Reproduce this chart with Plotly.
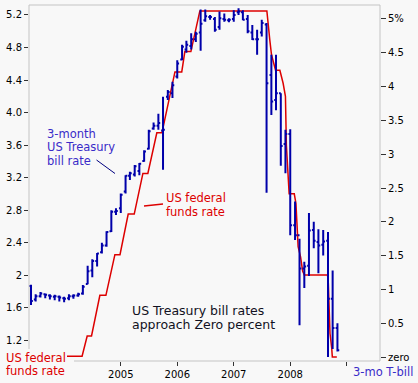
import plotly.graph_objects as go
import pandas as pd

# ---------------- data ----------------
# monthly 3-month T-bill bars (right axis, %)
months = pd.date_range("2003-06-01", periods=66, freq="MS")
tbill_open = [1.05, 0.85, 0.90, 0.93, 0.91, 0.89, 0.89, 0.87, 0.87, 0.90, 0.91, 0.94,
              1.08, 1.28, 1.42, 1.55, 1.65, 1.86, 2.15, 2.20, 2.45, 2.68, 2.70, 2.75,
              2.90, 3.08, 3.38, 3.42, 3.35, 3.85, 3.90, 4.15, 4.40, 4.55, 4.60, 4.70,
              4.80, 4.98, 5.03, 5.00, 4.88, 5.00, 4.98, 5.00, 5.10, 5.10, 5.00, 4.80,
              4.70, 4.80, 4.92, 4.17, 3.80, 3.90, 3.15, 3.30, 1.95, 1.80, 1.31, 1.35,
              1.88, 1.70, 1.66, 1.72, 0.86, 0.43]
tbill_high = [1.07, 0.93, 0.96, 0.94, 0.93, 0.92, 0.91, 0.89, 0.93, 0.93, 0.95, 1.065,
              1.35, 1.445, 1.54, 1.69, 1.86, 2.17, 2.20, 2.42, 2.69, 2.74, 2.84, 2.87,
              3.06, 3.36, 3.47, 3.60, 3.85, 3.95, 4.07, 4.39, 4.62, 4.68, 4.79, 4.81,
              5.14, 5.14, 5.06, 5.03, 5.11, 5.08, 5.01, 5.13, 5.16, 5.13, 5.06, 4.91,
              4.84, 4.99, 4.94, 4.47, 4.47, 3.90, 3.36, 3.37, 2.30, 1.75, 1.41, 2.13,
              2.00, 1.89, 1.88, 1.85, 1.28, 0.50]
tbill_low = [0.77, 0.82, 0.88, 0.87, 0.85, 0.84, 0.82, 0.81, 0.84, 0.86, 0.89, 0.92,
             1.075, 1.18, 1.34, 1.53, 1.63, 1.85, 2.10, 2.13, 2.42, 2.62, 2.67, 2.69,
             2.89, 3.07, 3.36, 3.36, 2.77, 3.80, 3.83, 4.12, 4.39, 4.50, 4.55, 4.66,
             4.53, 4.96, 4.99, 4.81, 4.84, 4.96, 4.95, 4.96, 5.06, 4.98, 4.79, 4.69,
             4.47, 4.74, 2.43, 3.58, 3.65, 2.83, 2.72, 1.80, 1.73, 0.47, 1.02, 1.20,
             1.61, 1.24, 1.50, 0.00, 0.12, 0.08]
tbill_close = [0.83, 0.90, 0.94, 0.92, 0.90, 0.90, 0.88, 0.86, 0.90, 0.91, 0.93, 1.04,
               1.27, 1.42, 1.53, 1.65, 1.85, 2.15, 2.16, 2.40, 2.68, 2.72, 2.82, 2.86,
               3.04, 3.34, 3.42, 3.46, 3.36, 3.92, 4.02, 4.34, 4.59, 4.62, 4.70, 4.78,
               4.93, 5.04, 5.03, 4.84, 5.01, 4.99, 4.99, 5.06, 5.11, 4.99, 4.82, 4.70,
               4.70, 4.94, 4.05, 3.78, 3.90, 3.12, 3.30, 1.95, 1.80, 1.31, 1.34, 1.87,
               1.72, 1.65, 1.71, 0.86, 0.43, 0.10]

# US federal funds rate (left axis, %)
fed_dates = ["2003-06-25", "2004-04-26", "2004-05-29", "2004-06-26", "2004-08-19",
             "2004-09-27", "2004-11-24", "2004-12-27", "2005-02-18", "2005-03-29",
             "2005-05-24", "2005-06-25", "2005-08-22", "2005-09-24", "2005-12-17",
             "2006-01-30", "2006-02-19", "2006-03-30", "2006-05-27", "2007-08-03",
             "2007-08-22", "2007-09-02", "2007-09-28", "2007-10-26", "2007-11-16",
             "2007-12-01", "2007-12-07", "2007-12-25", "2008-01-27", "2008-02-07",
             "2008-02-13", "2008-02-21", "2008-03-08", "2008-03-21", "2008-04-01",
             "2008-08-29", "2008-09-03", "2008-09-09", "2008-09-14", "2008-09-25",
             "2008-09-29", "2008-10-28"]
fed_rate = [1.00, 1.00, 1.25, 1.25, 1.75,
            1.75, 2.25, 2.25, 2.75, 2.75,
            3.25, 3.25, 3.75, 3.75, 4.50,
            4.50, 4.75, 4.75, 5.25, 5.25,
            4.89, 4.71, 4.52, 4.52, 4.36,
            4.20, 3.60, 3.00, 3.00, 2.88,
            2.65, 2.35, 2.22, 2.05, 2.00,
            2.00, 1.90, 1.49, 1.28, 1.10,
            0.99, 0.99]

x_tick_vals = ["2005-01-01", "2006-01-01", "2007-01-01", "2008-01-01", "2009-01-01"]
x_tick_text = ["2005", "2006", "2007", "2008", ""]
left_tick_vals = [1.2, 1.6, 2.0, 2.4, 2.8, 3.2, 3.6, 4.0, 4.4, 4.8, 5.2]
left_tick_text = ["1.2", "1.6", "2", "2.4", "2.8", "3.2", "3.6", "4.0", "4.4", "4.8", "5.2"]
right_tick_vals = [0, 0.5, 1, 1.5, 2, 2.5, 3, 3.5, 4, 4.5, 5]
right_tick_text = ["zero", "0.5", "1", "1.5", "2", "2.5", "3", "3.5", "4", "4.5", "5%"]

# ---------------- style ----------------
W, H = 418, 383
L, R, T, B = 29, 380, 5, 361
BG = "#f8f8f8"
FRAME = "#c4c4c4"
BLUE = "#0000aa"
BLUE_TXT = "#3a2bc8"
RED = "#dd0000"
FONT = "DejaVu Sans"


def px_x(x):
    return (x - L) / (R - L)


def px_y(y):
    return (B - y) / (B - T)


fig = go.Figure()
fig.add_trace(go.Ohlc(
    x=months, open=tbill_open, high=tbill_high, low=tbill_low, close=tbill_close,
    increasing=dict(line=dict(color=BLUE, width=2)),
    decreasing=dict(line=dict(color=BLUE, width=2)),
    tickwidth=0.42, yaxis="y2", hoverinfo="skip", showlegend=False))
fig.add_trace(go.Scatter(
    x=fed_dates, y=fed_rate, mode="lines", line=dict(color=RED, width=1.5),
    yaxis="y", hoverinfo="skip", showlegend=False))

shapes = []
line_frame = dict(color=FRAME, width=1)
shapes.append(dict(type="line", xref="paper", yref="paper", x0=0, x1=1, y0=1, y1=1, line=line_frame))
shapes.append(dict(type="line", xref="paper", yref="paper", x0=1, x1=1, y0=0, y1=1, line=line_frame))
shapes.append(dict(type="line", xref="paper", yref="paper", x0=0, x1=0, y0=px_y(349), y1=1, line=line_frame))
shapes.append(dict(type="line", xref="paper", yref="paper", x0=px_x(74), x1=1, y0=0, y1=0, line=line_frame))
# background box behind lower-left label
shapes.append(dict(type="rect", xref="paper", yref="paper", layer="above",
                   x0=px_x(0), x1=px_x(67), y0=px_y(383), y1=px_y(349),
                   fillcolor=BG, line=dict(width=0)))
# connector lines
shapes.append(dict(type="line", xref="paper", yref="paper",
                   x0=px_x(96.5), y0=px_y(160), x1=px_x(115), y1=px_y(173.5),
                   line=dict(color="#000080", width=1)))
shapes.append(dict(type="line", xref="paper", yref="paper",
                   x0=px_x(144), y0=px_y(206), x1=px_x(163), y1=px_y(204),
                   line=dict(color=RED, width=1.5)))

ann = []


def label(text, x, y, color, size):
    ann.append(dict(text=text, xref="paper", yref="paper", x=px_x(x), y=px_y(y),
                    xanchor="left", yanchor="middle", showarrow=False,
                    font=dict(family=FONT, size=size, color=color), borderpad=0))


label("3-month", 46, 134, BLUE_TXT, 11.5)
label("US Treasury", 46, 147, BLUE_TXT, 11.5)
label("bill rate", 46, 160.5, BLUE_TXT, 11.5)
label("US federal", 165, 197.5, RED, 11.5)
label("funds rate", 165, 211.5, RED, 11.5)
label("US federal", 5, 357.5, RED, 11.5)
label("funds rate", 5, 371, RED, 11.5)
label("US Treasury bill rates", 131, 310, "#111122", 12.5)
label("approach Zero percent", 131, 324.5, "#111122", 12.5)
label("3-mo T-bill", 352, 372, BLUE_TXT, 11.5)

tickfont = dict(family=FONT, size=10, color="#000000")
fig.update_layout(
    width=W, height=H, autosize=False,
    margin=dict(l=L, r=W - R, t=T, b=H - B, pad=0),
    paper_bgcolor=BG, plot_bgcolor=BG,
    showlegend=False,
    xaxis=dict(type="date", range=["2003-05-19", "2009-08-03"],
               tickmode="array", tickvals=x_tick_vals, ticktext=x_tick_text,
               ticks="outside", ticklen=4, tickcolor="#333333", tickwidth=1,
               showgrid=False, zeroline=False, showline=False,
               rangeslider=dict(visible=False), tickfont=tickfont, automargin=False,
               fixedrange=True),
    yaxis=dict(range=[0.942, 5.323], tickmode="array",
               tickvals=left_tick_vals, ticktext=left_tick_text,
               ticks="outside", ticklen=4, tickcolor="#333333", tickwidth=1,
               showgrid=False, zeroline=False, showline=False,
               tickfont=tickfont, automargin=False),
    yaxis2=dict(range=[-0.059, 5.207], overlaying="y", side="right", tickmode="array",
                tickvals=right_tick_vals, ticktext=right_tick_text,
                ticks="outside", ticklen=5, tickcolor="#333333", tickwidth=1,
                showgrid=False, zeroline=False, showline=False,
                tickfont=tickfont, automargin=False),
    shapes=shapes, annotations=ann,
)

fig.write_html(
    "out.html",
    config={"displayModeBar": False},
    post_script="document.body.style.margin='0';document.body.style.overflow='hidden';"
                "document.body.style.background='" + BG + "';",
)
